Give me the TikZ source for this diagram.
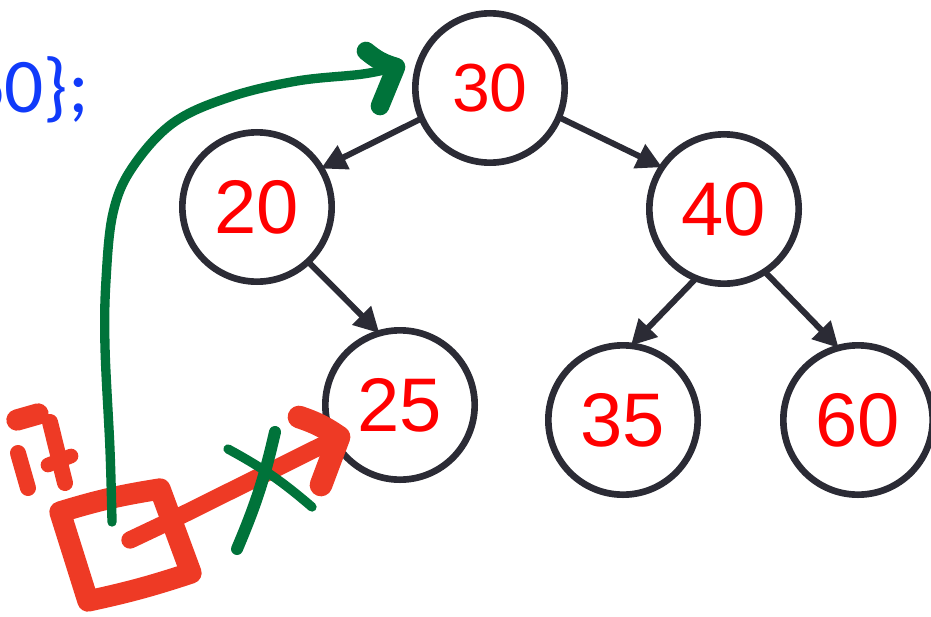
\documentclass[tikz,border=0pt]{standalone}
\usepackage{fontspec}
\setmainfont{Liberation Sans}
\newfontfamily\kodfont{Carlito}
\usetikzlibrary{arrows.meta}

\definecolor{tmava}{RGB}{43,43,53}
\definecolor{cislo}{RGB}{255,0,0}
\definecolor{modra}{RGB}{16,58,250}
\definecolor{fixa}{RGB}{238,58,37}
\definecolor{zelena}{RGB}{0,115,58}

\tikzset{
    uzel/.style={circle, draw=tmava, line width=5pt, minimum size=112pt,
        inner sep=0pt, outer sep=0pt, text=cislo,
        font=\fontsize{57}{66}\selectfont},
    hrana/.style={draw=tmava, line width=4.5pt,
        -{Triangle[length=19pt,width=19pt]}},
    cervena/.style={draw=fixa, line cap=round, line join=round},
    zeleny/.style={draw=zelena, line cap=round, line join=round, line width=7pt},
}

\begin{document}
\begin{tikzpicture}[x=0.75pt, y=-0.75pt]
        \useasboundingbox (0,0) rectangle (931,617);

        % kod
        \node[font=\kodfont\fontsize{58}{70}\selectfont, text=modra,
            anchor=base east, inner sep=0pt] (kod) at (89,113) {60\};};

        % uzly
        \node[uzel, font=\fontsize{51}{60}\selectfont] (n30) at (490,88) {30};
        \node[uzel] (n20) at (257,207) {20};
        \node[uzel] (n40) at (724,209) {40};
        \node[uzel] (n25) at (400,405) {25};
        \node[uzel] (n35) at (623,420) {35};
        \node[uzel] (n60) at (858,420) {60};

        % hrany
        \draw[hrana] (n30.204) -- (n20.31);
        \draw[hrana] (n30.337) -- (n40.146);
        \draw[hrana] (n20.313) -- (n25.106);
        \draw[hrana] (n40.248) -- (n35.84);
        \draw[hrana] (n40.303) -- (n60.105);

        % it
        \draw[cervena, line width=16pt] (17,420) -- (38,414);
        \draw[cervena, line width=12pt] (18,453) -- (28,488);
        \draw[cervena, line width=12pt] (50,422) -- (65,483);
        \draw[cervena, line width=11pt] (48,465) -- (71,456);

        % ctverecek a sipka
        \coordinate (it) at (130,540);
        \coordinate (hrot) at (339,437);
        \draw[cervena, line width=16pt]
        (60,512) to[bend left=4] (160,489) -- (191,573) to[bend left=3] (88,601) -- cycle;
        \draw[cervena, line width=13pt] (it) -- (168,522) -- (hrot);
        \draw[cervena, line width=17pt] (299,417) to[bend left=8] (hrot) -- (321,485);

        % zelena cesta
        \coordinate (start) at (112,522);
        \coordinate (cil) at (396,67);
        \draw[zeleny] plot[smooth, tension=0.6] coordinates {(start) (110,450)
            (105,347) (106,280) (113,213) (132,168) (173,123) (230,97) (297,81)
            (363,74) (cil)};
        \draw[zeleny, line width=14pt] (366,51) to[bend right=12] (cil) -- (380,106);
        \draw[zeleny, line width=7pt] (228,449) to[bend left=6] (312,507);
        \draw[zeleny, line width=9pt] (275,432) to[bend left=5] (237,549);

    \end{tikzpicture}
\end{document}
